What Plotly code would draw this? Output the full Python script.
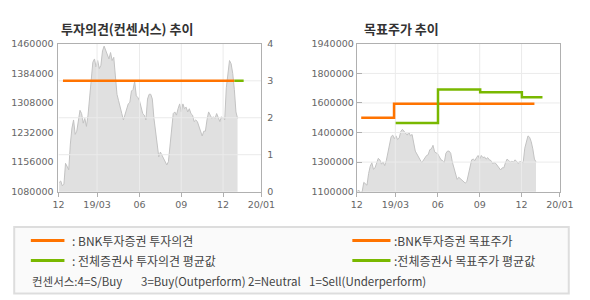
import plotly.graph_objects as go

# ---------------- data ----------------
price = [1103300, 1107400, 1095000, 1099200, 1152800, 1144600, 1136300, 1202400, 1243700, 1264300,
         1227200, 1235400, 1260200, 1289100, 1280800, 1256100, 1268400, 1247800, 1276700, 1318000,
         1375800, 1412900, 1421200, 1400500, 1417100, 1396400, 1404700, 1441800, 1454200, 1441800,
         1433600, 1421200, 1437700, 1417100, 1425300, 1384000, 1330400, 1313900, 1293200, 1280800,
         1264300, 1276700, 1293200, 1305600, 1309700, 1338600, 1342800, 1363400, 1326200, 1322100,
         1313900, 1297300, 1280800, 1276700, 1264300, 1318000, 1330400, 1330400, 1318000, 1268400,
         1235400, 1202400, 1169400, 1181700, 1173500, 1165200, 1157000, 1148700, 1157000, 1202400,
         1243700, 1280800, 1285000, 1276700, 1293200, 1305600, 1285000, 1305600, 1293200, 1297300,
         1285000, 1293200, 1280800, 1276700, 1260200, 1264300, 1260200, 1247800, 1235400, 1223000,
         1235400, 1235400, 1264300, 1285000, 1276700, 1268400, 1272600, 1268400, 1280800, 1272600,
         1260200, 1272600, 1268400, 1264300, 1346900, 1384000, 1417100, 1408800, 1384000, 1342800,
         1285000, 1268400]

x_ticks = [-0.4, 23.6, 50.0, 76.0, 102.0, 125.8]
x_labels = ["12", "19/03", "06", "09", "12", "20/01"]
x_range = [-0.4, 125.8]

# investment opinion (consensus) 4=S/Buy 3=Buy 2=Neutral 1=Sell
bnk_opinion_x = [2.4, 109.0]
bnk_opinion_y = [3, 3]
avg_opinion_x = [109.0, 114.8]
avg_opinion_y = [3, 3]

# target price
bnk_target_x = [2.4, 22.8, 110.0]
bnk_target_y = [1520000, 1600000, 1600000]
avg_target_x = [23.8, 50.1, 76.3, 102.2, 115.0]
avg_target_y = [1490000, 1680000, 1665000, 1637000, 1637000]

left1_ticks = [1080000, 1156000, 1232000, 1308000, 1384000, 1460000]
right1_ticks = [0, 1, 2, 3, 4]
y2_ticks = [1100000, 1268000, 1436000, 1604000, 1772000, 1940000]
y2_labels = ["1100000", "1300000", "1400000", "1600000", "1800000", "1940000"]

ORANGE = "#ff7300"
GREEN = "#79b800"
AREA = "#e0e0e0"
AREA_LINE = "#c2c2c2"
GRID = "#ebebeb"
FRAME = "#b0b0b0"
TICKC = "#666666"
FONT = "DejaVu Sans"
KFONT = "Noto Sans CJK KR"

W, H = 590, 300
def px(v): return v / W
def py(v): return 1 - v / H

idx = list(range(len(price)))

fig = go.Figure()

# ---- chart 1 ----
fig.add_trace(go.Scatter(x=idx, y=price, xaxis="x", yaxis="y", mode="lines",
                         line=dict(color=AREA_LINE, width=1), fill="tozeroy",
                         fillcolor=AREA, hoverinfo="skip", showlegend=False))

def grid_xy(xt, yt, xr, yr):
    gx, gy = [], []
    for v in xt[1:-1]:
        gx += [v, v, None]; gy += [yr[0], yr[1], None]
    for v in yt[1:-1]:
        gx += [xr[0], xr[1], None]; gy += [v, v, None]
    return gx, gy

gx, gy = grid_xy(x_ticks, right1_ticks, x_range, [0, 4])
fig.add_trace(go.Scatter(x=gx, y=gy, xaxis="x", yaxis="y2", mode="lines",
                         line=dict(color=GRID, width=1), hoverinfo="skip", showlegend=False))
fig.add_trace(go.Scatter(x=bnk_opinion_x, y=bnk_opinion_y, xaxis="x", yaxis="y2", mode="lines",
                         line=dict(color=ORANGE, width=2.5), showlegend=False))
fig.add_trace(go.Scatter(x=avg_opinion_x, y=avg_opinion_y, xaxis="x", yaxis="y2", mode="lines",
                         line=dict(color=GREEN, width=2.5), showlegend=False))

# ---- chart 2 ----
fig.add_trace(go.Scatter(x=idx, y=price, xaxis="x2", yaxis="y3", mode="lines",
                         line=dict(color=AREA_LINE, width=1), fill="tozeroy",
                         fillcolor=AREA, hoverinfo="skip", showlegend=False))
gx, gy = grid_xy(x_ticks, y2_ticks, x_range, [y2_ticks[0], y2_ticks[-1]])
fig.add_trace(go.Scatter(x=gx, y=gy, xaxis="x2", yaxis="y3", mode="lines",
                         line=dict(color=GRID, width=1), hoverinfo="skip", showlegend=False))
fig.add_trace(go.Scatter(x=bnk_target_x, y=bnk_target_y, xaxis="x2", yaxis="y3", mode="lines",
                         line=dict(color=ORANGE, width=2.5, shape="hv"), showlegend=False))
fig.add_trace(go.Scatter(x=avg_target_x, y=avg_target_y, xaxis="x2", yaxis="y3", mode="lines",
                         line=dict(color=GREEN, width=2.5, shape="hv"), showlegend=False))

tickfont = dict(family=FONT, size=9.5, color=TICKC)
ydom = [py(192.7), py(39.3)]

xcommon = dict(range=x_range, tickmode="array", tickvals=x_ticks, ticktext=x_labels,
               showgrid=False, zeroline=False, showline=True, linecolor=FRAME, linewidth=1,
               mirror=True, ticks="outside", ticklen=4, tickcolor=FRAME, tickfont=tickfont)

fig.update_layout(
    width=W, height=H, margin=dict(l=0, r=0, t=0, b=0),
    paper_bgcolor="white", plot_bgcolor="white", showlegend=False,
    xaxis=dict(domain=[px(54.3), px(264.3)], anchor="y", **xcommon),
    yaxis=dict(domain=ydom, anchor="x", range=[left1_ticks[0], left1_ticks[-1]],
               tickmode="array", tickvals=left1_ticks, tickformat="d",
               showgrid=False, zeroline=False, showline=True, linecolor=FRAME,
               mirror=True, ticks="", tickfont=tickfont, ticklabelstandoff=2),
    yaxis2=dict(overlaying="y", side="right", anchor="x", range=[0, 4],
                tickmode="array", tickvals=right1_ticks, showgrid=False, zeroline=False,
                showline=False, ticks="", tickfont=tickfont, ticklabelstandoff=5),
    xaxis2=dict(domain=[px(363), px(573.3)], anchor="y3", **xcommon),
    yaxis3=dict(domain=ydom, anchor="x2", range=[y2_ticks[0], y2_ticks[-1]],
                tickmode="array", tickvals=y2_ticks, ticktext=y2_labels,
                showgrid=False, zeroline=False, showline=True, linecolor=FRAME, mirror=True,
                ticks="inside", ticklen=5, tickcolor=FRAME, tickfont=tickfont),
)

# titles
ann = []
ann.append(dict(text="<b>투자의견(컨센서스) 추이</b>", x=px(55), y=py(23.5), xref="paper", yref="paper",
                xanchor="left", yanchor="middle", showarrow=False,
                font=dict(family=KFONT, size=13, color="#333333")))
ann.append(dict(text="<b>목표주가 추이</b>", x=px(368), y=py(23.5), xref="paper", yref="paper",
                xanchor="left", yanchor="middle", showarrow=False,
                font=dict(family=KFONT, size=13, color="#333333")))

shapes = [dict(type="rect", xref="paper", yref="paper", x0=px(8.5), x1=px(582.5), y0=py(298.5), y1=py(229.5),
               line=dict(color="#dddddd", width=2), fillcolor="#fafafa", layer="below")]

legend_rows = [
    (px(25.7), px(60.5), 243.4, ORANGE, px(66), ": BNK투자증권 투자의견"),
    (px(25.7), px(60.5), 264.3, GREEN, px(66), ": 전체증권사 투자의견 평균값"),
    (px(358.5), px(398), 243.4, ORANGE, px(400), ":BNK투자증권 목표주가"),
    (px(358.5), px(398), 264.3, GREEN, px(400), ":전체증권사 목표주가 평균값"),
]
for x0, x1, yy, col, tx, label in legend_rows:
    shapes.append(dict(type="line", xref="paper", yref="paper", x0=x0, x1=x1, y0=py(yy), y1=py(yy),
                       line=dict(color=col, width=3)))
    ann.append(dict(text=label, x=tx, y=py(yy), xref="paper", yref="paper", xanchor="left",
                    yanchor="middle", showarrow=False, font=dict(family=KFONT, size=12, color="#444444")))

consensus = [(24.6, "컨센서스:4=S/Buy"), (137.3, "3=Buy(Outperform)"), (248.9, "2=Neutral"),
             (312, "1=Sell(Underperform)")]
for xx, t in consensus:
    ann.append(dict(text=t, x=px(xx), y=py(285), xref="paper", yref="paper", xanchor="left",
                    yanchor="middle", showarrow=False, font=dict(family=KFONT, size=11.5, color="#444444")))

fig.update_layout(annotations=ann, shapes=shapes)
fig.write_html("out.html")
